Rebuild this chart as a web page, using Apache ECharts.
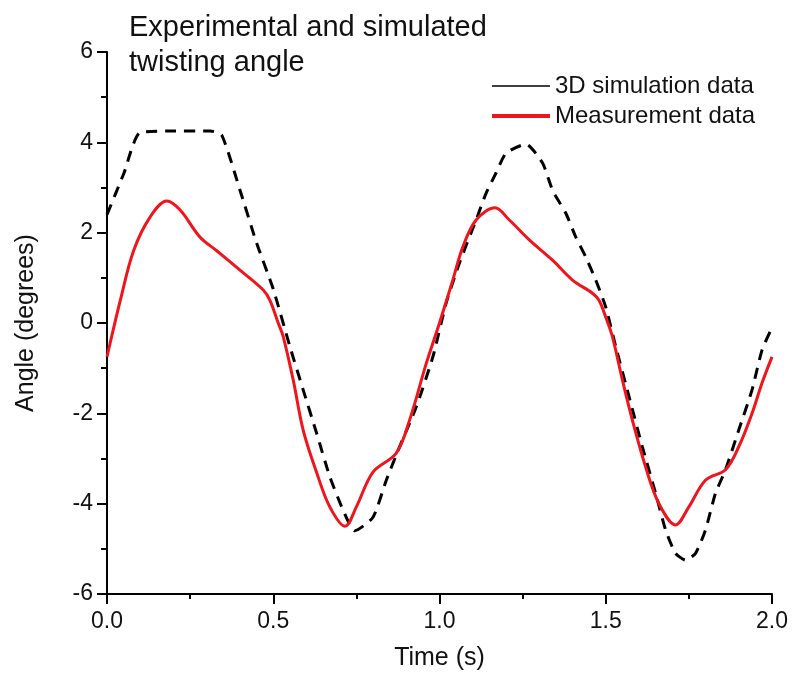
<!DOCTYPE html>
<html>
<head>
<meta charset="utf-8">
<script src="https://cdn.jsdelivr.net/npm/echarts@6/dist/echarts.min.js"></script>
<style>
html, body { margin: 0; padding: 0; background: #fff; }
#chart { width: 798px; height: 684px; }
</style>
</head>
<body>
<div id="chart"></div>
<script>
// 3D simulation (dashed black)
var simTime = [0.0, 0.05, 0.1, 0.2, 0.31, 0.345, 0.4, 0.45, 0.5, 0.55, 0.59, 0.63, 0.67, 0.71, 0.745, 0.8, 0.84, 0.88, 0.93, 0.98,
	1.02, 1.06, 1.11, 1.14, 1.17, 1.2, 1.26, 1.31, 1.34, 1.38, 1.41, 1.44, 1.47, 1.5, 1.53, 1.57, 1.61, 1.65, 1.68, 1.71,
	1.74, 1.77, 1.8, 1.83, 1.86, 1.9, 1.94, 1.97, 2.0];
var simAngle = [2.4, 3.3, 4.22, 4.25, 4.25, 4.16, 2.94, 1.77, 0.75, -0.52, -1.48, -2.43, -3.4, -4.14, -4.6, -4.3, -3.48, -2.74, -1.86, -0.75,
	0.44, 1.33, 2.28, 2.87, 3.32, 3.76, 3.96, 3.54, 2.94, 2.43, 1.9, 1.46, 0.95, 0.35, -0.52, -1.63, -2.74, -3.77, -4.58, -5.1,
	-5.25, -5.1, -4.58, -3.77, -3.25, -2.37, -1.48, -0.6, -0.1];

// measurement (red)
var measTime = [0.0, 0.04, 0.08, 0.13, 0.18, 0.22, 0.28, 0.33, 0.4, 0.47, 0.49, 0.515, 0.53, 0.56, 0.59, 0.63, 0.67, 0.716, 0.75, 0.8,
	0.87, 0.91, 0.96, 1.0, 1.04, 1.07, 1.11, 1.167, 1.21, 1.27, 1.34, 1.4, 1.46, 1.48, 1.5, 1.52, 1.55, 1.58, 1.62, 1.66,
	1.71, 1.75, 1.8, 1.86, 1.9, 1.94, 1.97, 2.0];
var measAngle = [-0.75, 0.5, 1.6, 2.35, 2.7, 2.5, 1.9, 1.6, 1.17, 0.73, 0.5, 0.0, -0.3, -1.26, -2.37, -3.3, -4.07, -4.5, -4.07, -3.3,
	-2.88, -2.15, -0.9, 0.0, 0.95, 1.68, 2.28, 2.55, 2.28, 1.84, 1.39, 0.95, 0.66, 0.5, 0.13, -0.3, -1.26, -2.15, -3.19, -4.0,
	-4.47, -4.07, -3.48, -3.25, -2.74, -2.0, -1.33, -0.75];

var seriesNames = ['3D simulation data', 'Measurement data'];

function pairs(xs, ys) {
	var out = [];
	for (var i = 0; i < xs.length; i++) out.push([xs[i], ys[i]]);
	return out;
}

var chart = echarts.init(document.getElementById('chart'));
var font = 'Liberation Sans, Arial, sans-serif';

var option = {
	backgroundColor: '#fff',
	animation: false,
	textStyle: { fontFamily: font, color: '#111' },
	title: {
		text: 'Experimental and simulated\ntwisting angle',
		left: 124,
		top: 5,
		textStyle: { fontFamily: font, fontSize: 29, fontWeight: 'normal', color: '#111', lineHeight: 35 }
	},
	legend: {
		orient: 'vertical',
		left: 485,
		top: 69,
		itemWidth: 58,
		itemHeight: 14,
		itemGap: 6,
		textStyle: { fontFamily: font, fontSize: 24, color: '#111' },
		data: [
			{ name: seriesNames[0], itemStyle: { opacity: 0 }, lineStyle: { type: 'solid', width: 1.5, color: '#000' } },
			{ name: seriesNames[1], itemStyle: { opacity: 0 }, lineStyle: { type: 'solid', width: 4, color: '#f0141c' } }
		]
	},
	grid: { left: 107, right: 26, top: 52, bottom: 90 },
	xAxis: {
		type: 'value',
		min: 0, max: 2, interval: 0.5,
		name: 'Time (s)',
		nameLocation: 'middle',
		nameGap: 52,
		nameTextStyle: { fontFamily: font, fontSize: 25, color: '#111' },
		axisLine: { onZero: false, lineStyle: { color: '#000', width: 2 } },
		axisTick: { length: 10, lineStyle: { color: '#000', width: 2 } },
		minorTick: { show: true, splitNumber: 2, length: 5, lineStyle: { color: '#000', width: 2 } },
		splitLine: { show: false },
		axisLabel: { fontSize: 23, color: '#111', margin: 16, formatter: function (v) { return v.toFixed(1); } }
	},
	yAxis: {
		type: 'value',
		min: -6, max: 6, interval: 2,
		name: 'Angle (degrees)',
		nameLocation: 'middle',
		nameGap: 68,
		nameTextStyle: { fontFamily: font, fontSize: 25, color: '#111' },
		axisLine: { show: true, onZero: false, lineStyle: { color: '#000', width: 2 } },
		axisTick: { show: true, length: 10, lineStyle: { color: '#000', width: 2 } },
		minorTick: { show: true, splitNumber: 2, length: 6, lineStyle: { color: '#000', width: 2 } },
		splitLine: { show: false },
		axisLabel: { fontSize: 23, color: '#111', margin: 14 }
	},
	series: [
		{
			name: seriesNames[0],
			type: 'line',
			data: pairs(simTime, simAngle),
			symbol: 'none',
			smooth: 0.2,
			lineStyle: { color: '#000', width: 3, type: [11, 8] },
			itemStyle: { color: '#000' },
			z: 2
		},
		{
			name: seriesNames[1],
			type: 'line',
			data: pairs(measTime, measAngle),
			symbol: 'none',
			smooth: 0.35,
			lineStyle: { color: '#f0141c', width: 3 },
			itemStyle: { color: '#f0141c' },
			z: 3
		}
	]
};
chart.setOption(option);
</script>
</body>
</html>
